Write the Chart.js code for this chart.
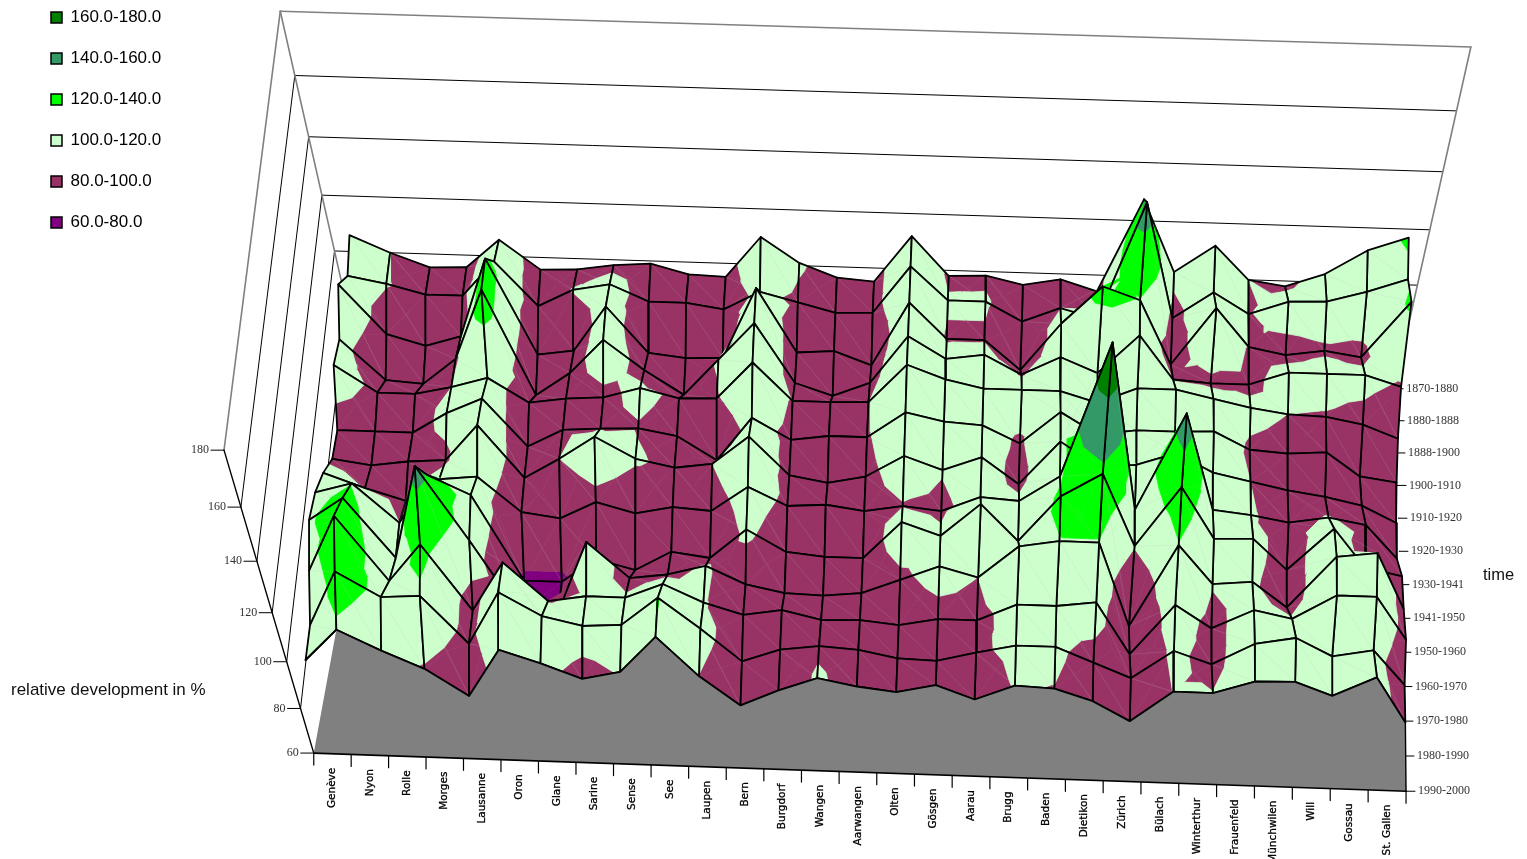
<!DOCTYPE html>
<html><head><meta charset="utf-8"><style>html,body{margin:0;padding:0;background:#fff}canvas{display:block}</style>
<script src="https://cdn.jsdelivr.net/npm/chart.js@4"></script></head><body>
<canvas id="c" width="1527" height="859"></canvas>
<script>
const districts=["Genève","Nyon","Rolle","Morges","Lausanne","Oron","Glane","Sarine","Sense","See","Laupen","Bern","Burgdorf","Wangen","Aarwangen","Olten","Gösgen","Aarau","Brugg","Baden","Dietikon","Zürich","Bülach","Winterthur","Frauenfeld","Münchwilen","Will","Gossau","St. Gallen"];
const periods=["1870-1880","1880-1888","1888-1900","1900-1910","1910-1920","1920-1930","1930-1941","1941-1950","1950-1960","1960-1970","1970-1980","1980-1990","1990-2000"];
const zTicks=[60,80,100,120,140,160,180];
const bandNames=["60.0-80.0","80.0-100.0","100.0-120.0","120.0-140.0","140.0-160.0","160.0-180.0"];
const bandColors=["#800080","#993366","#CCFFCC","#00FF00","#339966","#008000"];
/* Where the colours change on the surface. In the reference the colours above 100 start lower
   on the height axis than the legend says, so these cuts follow the picture, not the legend text.
   All values below are estimates; a few were nudged so a colour patch shows. */
const colourCuts=[60,80,100,116,131,148,180];
const geneve=[106,103,112,104,107,95,97,105,111,114,108,100.5,101];
const nyon=[100,100.5,94,89,97,95,95,99.5,115,123,130,122.6,114];
const rolle=[95,97,90,88,97,95,97,95,100,100,105,113,106];
const morges=[95.5,97,94,98,100,103,98,104,119,136,120,114,99];
const lausanne=[106,110,123,124,104,109,112,105.5,112,108,94,95,88];
const oron=[95.5,94,88,85,95,91,92,92,78,78,114,116.5,108];
const glane=[96,100.5,90,94,97,98,100,90,78,80,99,107.5,103];
const sarine=[98,103,107,107,98,99,109,97,88,109,101.5,104,97];
const sense=[99,97,90,96,102,99.5,101,93,84,95,101.5,105,100.5];
const see=[95.5,97,88.5,87,98.5,97,98,96,92,97,107.5,116.5,115.5];
const laupen=[95,95,89,101,99,88,100,95,90,101,100.5,104.5,99.8];
const bern=[110,102,115.5,115,113,105,111,105,102,94,96,91.5,88];
const burgdorf=[101,98.5,92,93,99,97,96.5,98,93.5,91,98.5,97,95];
const wangen=[96,95,93,88.5,99,99,94,99,92,90.5,95,99,100.8];
const aarwangen=[95,95.5,88,94,99.5,99,97,97,92,92,95.5,98,97.8];
const olten=[112,113,112,112,114,109,105.5,99.5,107,98,94,95,96];
const goesgen=[98,101,99,104,109,106,100.5,98,102,104,97,94.5,99.5];
const aarau=[98.5,101,99,106,106,105,106,104,115,100,97,98.5,94];
const brugg=[95.5,94,88,99,106,98.5,96,103,101,113,104,102,100.5];
const baden=[98,99.5,106,106,106,111,113,113,119,115.5,104,102,99.8];
const dietikon=[94,96,120,100.5,102,103,104,162,128,115.5,106,96,95];
const zuerich=[127.5,138,115.5,115,108,105,105,101,100.5,82,85,90,87];
const buelach=[102,97,92,99,108,105,110,138,124,115.5,106,102,100.2];
const winterthur=[112,107,113.5,98,105,105.6,103,102,104.5,100.5,97,97,100.2];
const frauenfeld=[100,99.5,99.5,98,102,99,100,100.5,105,102,105,106,105.6];
const muenchwilen=[98,104.5,97,103,100,98,97,98,93,92,102,109,106];
const wil=[103,105,99,103,99.5,99,95,100.5,110,113,112,102,100.7];
const gossau=[112,109,97,103,97,90,92,98,95,115,112,105,109];
const stgallen=[117,114,118,99,92,88,85.5,85,92,93,95,91,90.5];
const series=[geneve,nyon,rolle,morges,lausanne,oron,glane,sarine,sense,see,laupen,bern,burgdorf,wangen,aarwangen,olten,goesgen,aarau,brugg,baden,dietikon,zuerich,buelach,winterthur,frauenfeld,muenchwilen,wil,gossau,stgallen];

/* camera: least-squares projective fit of the box to its corners in the page */
const anchors=[[0,0,60,313,753],[0,0,80,301,710],[0,0,100,287,662],[0,0,120,272,613],[0,0,140,257,562],[0,0,160,241,507],[0,0,180,224,449],
[0,1,60,357,350],[0,1,80,347,303],[0,1,100,335,254],[0,1,120,322,197],[0,1,140,309,137],[0,1,160,295,77],[0,1,180,280,10],
[1,1,60,1396,391],[1,1,80,1405,339],[1,1,100,1416,286],[1,1,120,1428,230],[1,1,140,1442,172],[1,1,160,1457,110],[1,1,180,1472,45],
[1,0,60,1405,790],[1,0.5,60,1402,584]];
function fitCamera(){
  const n=11,A=Array.from({length:n},()=>new Array(n+1).fill(0));
  const add=(r,b)=>{for(let i=0;i<n;i++){for(let j=0;j<n;j++)A[i][j]+=r[i]*r[j];A[i][n]+=r[i]*b;}};
  for(const [u,v,z,x,y] of anchors){const w=(z-60)/120;
    add([u,v,w,1,0,0,0,0,-x*u,-x*v,-x*w],x);
    add([0,0,0,0,u,v,w,1,-y*u,-y*v,-y*w],y);}
  for(let i=0;i<n;i++){let p=i;for(let k=i+1;k<n;k++)if(Math.abs(A[k][i])>Math.abs(A[p][i]))p=k;[A[i],A[p]]=[A[p],A[i]];
    for(let k=0;k<n;k++)if(k!==i){const f=A[k][i]/A[i][i];for(let j=i;j<=n;j++)A[k][j]-=f*A[i][j];}}
  return A.map((r,i)=>r[n]/r[i]);
}
const cam=fitCamera();
function project(u,v,z){const w=(z-60)/120,d=cam[8]*u+cam[9]*v+cam[10]*w+1;
  return {x:(cam[0]*u+cam[1]*v+cam[2]*w+cam[3])/d,y:(cam[4]*u+cam[5]*v+cam[6]*w+cam[7])/d};}
const nC=districts.length,nR=periods.length;
const uOf=c=>(c+0.5)/nC, vOf=r=>(nR-1-r)/(nR-1);

const layers=[];
function addLine(pts,color,width,extra){layers.push(Object.assign({label:'',data:pts,showLine:true,fill:false,borderColor:color,borderWidth:width,pointRadius:0,tension:0,clip:false,borderJoinStyle:'round',borderCapStyle:'round'},extra||{}));}
function addPoly(pts,color,label,edge){layers.push({label:label||'',data:pts.concat([pts[0]]),showLine:true,fill:'shape',backgroundColor:color,borderColor:color,borderWidth:edge==null?0.7:edge,pointRadius:0,tension:0,clip:false});}

/* walls and axes behind the surface */
const thin='#000',grey='#808080';
for(const z of zTicks.slice(1,-1)){addLine([project(0,0,z),project(0,1,z)],thin,1);addLine([project(0,1,z),project(1,1,z)],thin,1);}
addLine([project(0,0,180),project(0,1,180)],grey,1.6);
addLine([project(0,1,180),project(1,1,180)],grey,1.6);
addLine([project(0,1,60),project(0,1,180)],grey,1.6);
addLine([project(1,1,60),project(1,1,180)],grey,1.6);
addLine([project(0,0,60),project(0,0,180)],'#000',1.4);
for(const z of zTicks){const p=project(0,0,z);addLine([p,{x:p.x-13,y:p.y}],'#000',1);}
periods.forEach((t,r)=>{const p=project(1,vOf(r),60);addLine([p,{x:p.x+9,y:p.y}],'#000',1);});
for(let c=0;c<=nC;c++){const p=project(c/nC,0,60);addLine([p,{x:p.x,y:p.y+12}],'#000',1.2);}

/* surface: cells from back to front, each cut at the colour levels */
function clipZ(poly,lim,keepAbove){const out=[];for(let i=0;i<poly.length;i++){const a=poly[i],b=poly[(i+1)%poly.length];
  const ia=keepAbove?a[2]>=lim:a[2]<=lim,ib=keepAbove?b[2]>=lim:b[2]<=lim;
  if(ia)out.push(a);
  if(ia!==ib){const t=(lim-a[2])/(b[2]-a[2]);out.push([a[0]+t*(b[0]-a[0]),a[1]+t*(b[1]-a[1]),lim]);}}
  return out;}
const bandOf=z=>{for(let i=0;i<bandNames.length;i++)if(z<colourCuts[i+1])return i;return bandNames.length-1;};
const order=[];
for(let r=0;r<nR-1;r++){const cs=[];for(let c=0;c<nC-1;c++)cs.push(c);cs.sort((a,b)=>Math.abs(b-14.5)-Math.abs(a-14.5));for(const c of cs)order.push([c,r]);}
for(const [c,r] of order){
  const q=[[uOf(c),vOf(r),series[c][r]],[uOf(c+1),vOf(r),series[c+1][r]],[uOf(c+1),vOf(r+1),series[c+1][r+1]],[uOf(c),vOf(r+1),series[c][r+1]]];
  const bs=q.map(p=>bandOf(p[2]));
  const toPts=poly=>poly.map(p=>project(p[0],p[1],p[2]));
  if(bs.every(b=>b===bs[0])){addPoly(toPts(q),bandColors[bs[0]],bandNames[bs[0]]);}
  else{
    const mid=[(q[0][0]+q[2][0])/2,(q[0][1]+q[2][1])/2,(q[0][2]+q[1][2]+q[2][2]+q[3][2])/4];
    for(let k=0;k<4;k++){const tri=[q[k],q[(k+1)%4],mid];
      for(let b=0;b<bandNames.length;b++){
        let poly=clipZ(tri,colourCuts[b],true);if(poly.length>2)poly=clipZ(poly,colourCuts[b+1],false);
        if(poly.length>2)addPoly(toPts(poly),bandColors[b],bandNames[b]);}}
  }
  addLine([project(q[0][0],q[0][1],q[0][2]),project(q[2][0],q[2][1],q[2][2])],'rgba(190,190,190,0.3)',0.6);
  addLine(toPts(q.concat([q[0]])),'#000',1.8);
}
/* grey front curtain and base line */
const curtain=[project(0,0,60)];
for(let c=1;c<nC;c++)curtain.push(project(uOf(c),0,series[c][nR-1]));
curtain.push(project(1,0,60));
addPoly(curtain,'#808080','',0);
const front=[];for(let c=0;c<nC;c++)front.push(project(uOf(c),0,series[c][nR-1]));
addLine(front,'#000',1.8);
addLine([project(0,0,60),project(1,0,60)],'#000',1.6);
addLine([project(1,0,60),project(uOf(nC-1),0,series[nC-1][nR-1])],'#000',1.4);

layers.forEach((d,i)=>{d.order=layers.length-i;});

const textPlugin={id:'boxText',
  afterLayout(chart){const l=chart.legend;if(l){l.left=27;l.top=-15;}},
  afterDraw(chart){
    const {ctx,scales:{x,y}}=chart;
    ctx.save();
    ctx.fillStyle='#333';ctx.font='12px "Liberation Serif"';ctx.textBaseline='middle';
    ctx.textAlign='right';
    for(const z of zTicks){const p=project(0,0,z);ctx.fillText(String(z),x.getPixelForValue(p.x-15),y.getPixelForValue(p.y));}
    ctx.textAlign='left';
    periods.forEach((t,r)=>{const p=project(1,vOf(r),60);ctx.fillText(t,x.getPixelForValue(p.x+12),y.getPixelForValue(p.y));});
    ctx.fillStyle='#000';ctx.strokeStyle='#000';ctx.lineWidth=0.3;ctx.font='10.5px "DejaVu Sans"';
    districts.forEach((t,c)=>{const p=project(uOf(c),0,60);ctx.save();ctx.translate(x.getPixelForValue(p.x),y.getPixelForValue(p.y+14));ctx.rotate(-Math.PI/2);ctx.textAlign='right';ctx.fillText(t,0,0);ctx.strokeText(t,0,0);ctx.restore();});
    ctx.fillStyle='#111';ctx.font='17px "Liberation Sans"';ctx.textAlign='left';
    ctx.fillText('relative development in %',x.getPixelForValue(11),y.getPixelForValue(690));
    ctx.font='16.5px "Liberation Sans"';
    ctx.fillText('time',x.getPixelForValue(1483),y.getPixelForValue(575));
    ctx.restore();
  }};

new Chart(document.getElementById('c'),{type:'scatter',data:{datasets:layers},plugins:[textPlugin],options:{
  responsive:false,animation:false,events:[],layout:{padding:0},
  scales:{x:{type:'linear',min:0,max:1527,display:false},y:{type:'linear',min:0,max:859,reverse:true,display:false}},
  plugins:{tooltip:{enabled:false},title:{display:false},
    legend:{display:true,position:'chartArea',align:'start',onClick:null,
      labels:{boxWidth:11,boxHeight:11,padding:24,color:'#111',font:{family:'"Liberation Sans"',size:17},
        generateLabels:()=>bandNames.map((t,i)=>({text:t,fillStyle:bandColors[i],strokeStyle:'#000',lineWidth:1.5,hidden:false,index:i})).reverse()}}}
}});
</script></body></html>
